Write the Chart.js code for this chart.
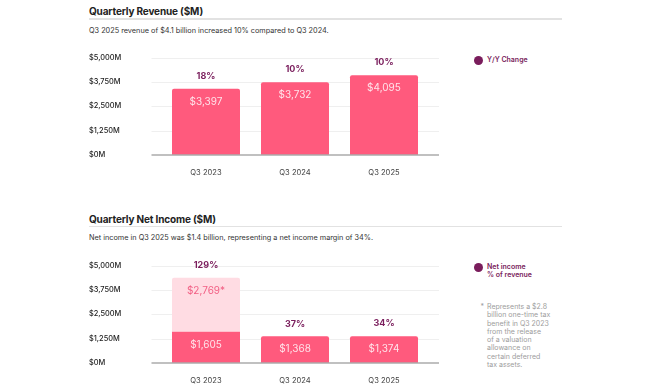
<!DOCTYPE html>
<html>
<head>
<meta charset="utf-8">
<script src="https://cdn.jsdelivr.net/npm/chart.js@4.4.1/dist/chart.umd.min.js"></script>
<style>
  html, body { margin: 0; padding: 0; background: #fff; }
  body { width: 650px; height: 390px; position: relative; overflow: hidden; font-family: Inter, "Noto Sans", sans-serif; }
  .abs { position: absolute; white-space: nowrap; }
  .title { font-size: 10px; font-weight: 700; color: #222; line-height: 14px; letter-spacing: -0.15px; }
  .rule { height: 1.5px; background: #e2e2e2; width: 473px; left: 89px; }
  .sub { font-size: 7.3px; color: #333; line-height: 10px; }
  .dot { width: 9px; height: 9px; border-radius: 50%; background: #7a1d5c; }
  .leg { font-size: 7px; font-weight: 600; color: #7a1d5c; line-height: 8.5px; }
  .foot { font-size: 7px; color: #9d9d9d; line-height: 8.3px; }
  canvas { position: absolute; }
</style>
</head>
<body>
<div class="abs title" style="left:89px;top:4px;">Quarterly Revenue ($M)</div>
<div class="abs rule" style="top:18px;"></div>
<div class="abs sub" style="left:89px;top:26px;">Q3 2025 revenue of $4.1 billion increased 10% compared to Q3 2024.</div>
<div class="abs dot" style="left:473.5px;top:55.5px;"></div>
<div class="abs leg" style="left:487px;top:55.8px;">Y/Y Change</div>
<canvas id="c1" width="390" height="150" style="left:84px;top:40px;width:390px;height:150px;"></canvas>

<div class="abs title" style="left:89px;top:212px;">Quarterly Net Income ($M)</div>
<div class="abs rule" style="top:225.5px;"></div>
<div class="abs sub" style="left:89px;top:233px;">Net income in Q3 2025 was $1.4 billion, representing a net income margin of 34%.</div>
<div class="abs dot" style="left:473.5px;top:262.5px;"></div>
<div class="abs leg" style="left:487px;top:262.5px;">Net income<br>% of revenue</div>
<div class="abs foot" style="left:480.5px;top:303px;">*</div>
<div class="abs foot" style="left:487px;top:303px;">Represents a $2.8<br>billion one-time tax<br>benefit in Q3 2023<br>from the release<br>of a valuation<br>allowance on<br>certain deferred<br>tax assets.</div>
<canvas id="c2" width="390" height="150" style="left:84px;top:247.5px;width:390px;height:150px;"></canvas>

<script>
// ---------- data ----------
const categories = ['Q3 2023', 'Q3 2024', 'Q3 2025'];
const revenue = [3397, 3732, 4095];
const revenueYoY = ['18%', '10%', '10%'];
const netIncome = [1605, 1368, 1374];
const taxBenefit = [2769, null, null];
const netMargin = ['129%', '37%', '34%'];
const yTickMax = 5000;
const yTickStep = 1250;

// ---------- styles ----------
const BAR = '#ff5a7d';
const BAR_LIGHT = '#ffdce3';
const PURPLE = '#7a1d5c';
const FONT = 'Inter, "Noto Sans", sans-serif';

const money = v => '$' + Number(v).toLocaleString('en-US');

const gridPlugin = {
  id: 'extGrid',
  beforeDatasetsDraw(chart) {
    const {ctx, chartArea, scales: {y}} = chart;
    ctx.save();
    ctx.strokeStyle = '#efefef';
    ctx.lineWidth = 1;
    y.ticks.forEach(t => {
      if (t.value === 0) return;
      const py = Math.round(y.getPixelForValue(t.value)) + 0.5;
      ctx.beginPath();
      ctx.moveTo(chartArea.left - 10, py);
      ctx.lineTo(chartArea.right + 10.5, py);
      ctx.stroke();
    });
    ctx.restore();
  },
  afterDatasetsDraw(chart) {
    const {ctx, chartArea, scales: {y}} = chart;
    ctx.save();
    ctx.strokeStyle = '#ababab';
    ctx.lineWidth = 1.6;
    const py = y.getPixelForValue(0);
    ctx.beginPath();
    ctx.moveTo(chartArea.left - 10, py);
    ctx.lineTo(chartArea.right + 10.5, py);
    ctx.stroke();
    ctx.restore();
  }
};

const labelPlugin = {
  id: 'barLabels',
  afterDatasetsDraw(chart, args, opts) {
    const ctx = chart.ctx;
    ctx.save();
    ctx.textAlign = 'center';
    ctx.textBaseline = 'middle';
    const tops = [];
    chart.data.datasets.forEach((ds, di) => {
      const meta = chart.getDatasetMeta(di);
      meta.data.forEach((bar, i) => {
        const v = ds.data[i];
        if (v === null || v === undefined) return;
        tops[i] = tops[i] === undefined ? bar.y : Math.min(tops[i], bar.y);
        ctx.font = '400 10px ' + FONT;
        ctx.fillStyle = ds.labelColor;
        ctx.fillText(money(v) + (ds.labelSuffix || ''), bar.x, bar.y + 13);
      });
    });
    ctx.font = '700 9px ' + FONT;
    ctx.fillStyle = PURPLE;
    const meta0 = chart.getDatasetMeta(0);
    opts.pct.forEach((p, i) => {
      ctx.fillText(p, meta0.data[i].x, tops[i] - 12.5);
    });
    ctx.restore();
  }
};

function makeOptions(pct, stacked) {
  return {
    responsive: false,
    animation: false,
    events: [],
    layout: { padding: { left: 5, top: 17.5, right: 45.5, bottom: 0 } },
    plugins: {
      legend: { display: false },
      tooltip: { enabled: false },
      barLabels: { pct: pct }
    },
    scales: {
      x: {
        stacked: stacked,
        grid: { display: false, drawTicks: false },
        border: { display: false },
        ticks: { color: '#444', font: { family: FONT, size: 7.6 }, padding: 13 },
        afterFit: s => { s.height = 35; }
      },
      y: {
        stacked: stacked,
        min: 0, max: yTickMax,
        grid: { display: false, drawTicks: false },
        border: { display: false },
        ticks: {
          stepSize: yTickStep,
          crossAlign: 'far',
          color: '#222',
          font: { family: FONT, size: 7.4, weight: '500' },
          callback: v => money(v) + 'M'
        },
        afterFit: s => { s.width = 72.5; }
      }
    }
  };
}

new Chart(document.getElementById('c1'), {
  type: 'bar',
  data: {
    labels: categories,
    datasets: [{
      data: revenue,
      backgroundColor: BAR,
      borderRadius: 2,
      borderSkipped: 'start',
      categoryPercentage: 1,
      barPercentage: 0.764,
      labelColor: '#ffe3ea'
    }]
  },
  options: makeOptions(revenueYoY, false),
  plugins: [gridPlugin, labelPlugin]
});

new Chart(document.getElementById('c2'), {
  type: 'bar',
  data: {
    labels: categories,
    datasets: [{
      data: netIncome,
      backgroundColor: BAR,
      borderRadius: 2,
      borderSkipped: 'start',
      categoryPercentage: 1,
      barPercentage: 0.764,
      labelColor: '#ffe3ea'
    }, {
      data: taxBenefit,
      backgroundColor: BAR_LIGHT,
      borderRadius: 2,
      borderSkipped: 'start',
      categoryPercentage: 1,
      barPercentage: 0.764,
      labelColor: '#f25f84',
      labelSuffix: '*'
    }]
  },
  options: makeOptions(netMargin, true),
  plugins: [gridPlugin, labelPlugin]
});
</script>
</body>
</html>
